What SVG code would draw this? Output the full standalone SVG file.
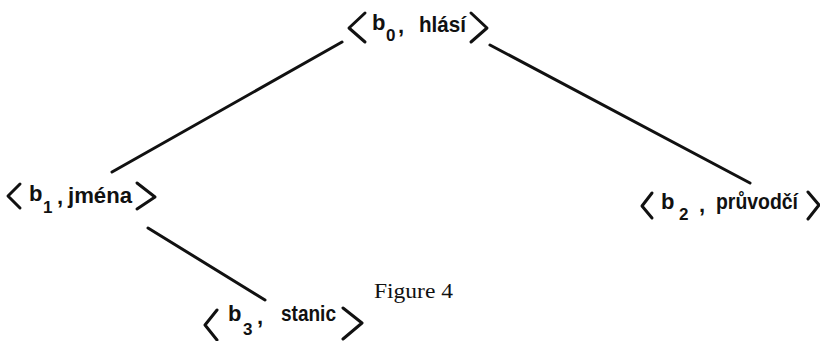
<svg xmlns="http://www.w3.org/2000/svg" width="820" height="341" viewBox="0 0 820 341">
  <style>
    .edge { stroke: #111; stroke-width: 3; stroke-linecap: round; fill: none; }
    .br { stroke: #111; stroke-width: 3; stroke-linecap: round; stroke-linejoin: round; fill: none; }
    .lbl { font-family: "Liberation Sans", Arial, sans-serif; font-weight: bold; font-size: 22px; fill: #111; }
    .sub { font-family: "Liberation Sans", Arial, sans-serif; font-weight: bold; font-size: 17px; fill: #111; }
    .cap { font-family: "Liberation Serif", "Times New Roman", serif; font-size: 20px; fill: #111; }
  </style>
  <rect width="820" height="341" fill="#fff"/>

  <!-- tree edges -->
  <g id="connectors">
    <line class="edge" x1="342" y1="42" x2="112" y2="172"/>
    <line class="edge" x1="490" y1="45" x2="750" y2="183"/>
    <line class="edge" x1="148" y1="228" x2="265" y2="300"/>
  </g>

  <!-- root -->
  <g id="node-b0">
    <polyline class="br" points="365,13 349,28 365,42"/>
    <text class="lbl" x="372" y="30">b</text>
    <text class="sub" x="386" y="41">0</text>
    <text class="lbl" x="398" y="33">,</text>
    <text class="lbl" x="419" y="32" textLength="47" lengthAdjust="spacingAndGlyphs">hlásí</text>
    <polyline class="br" points="471,13 487,28 471,42"/>
  </g>

  <g id="node-b1">
    <polyline class="br" points="20,184 8,196 20,208"/>
    <text class="lbl" x="29" y="201">b</text>
    <text class="sub" x="43" y="213">1</text>
    <text class="lbl" x="57" y="204">,</text>
    <text class="lbl" x="68" y="203" textLength="64" lengthAdjust="spacingAndGlyphs">jména</text>
    <polyline class="br" points="137,183 155,197 137,209"/>
  </g>

  <g id="node-b2">
    <polyline class="br" points="652,193 642,206 652,218"/>
    <text class="lbl" x="661" y="209">b</text>
    <text class="sub" x="679" y="220">2</text>
    <text class="lbl" x="699" y="212">,</text>
    <text class="lbl" x="716" y="209" textLength="82" lengthAdjust="spacingAndGlyphs">průvodčí</text>
    <polyline class="br" points="808,192 819,205 808,219"/>
  </g>

  <g id="node-b3">
    <polyline class="br" points="217,310 205,325 217,340"/>
    <text class="lbl" x="228" y="321">b</text>
    <text class="sub" x="243" y="335">3</text>
    <text class="lbl" x="257" y="324">,</text>
    <text class="lbl" x="281" y="321" textLength="55" lengthAdjust="spacingAndGlyphs">stanic</text>
    <polyline class="br" points="343,308 362,323 343,339"/>
  </g>

  <text class="cap" x="374" y="298" textLength="79" lengthAdjust="spacingAndGlyphs">Figure 4</text>
</svg>
